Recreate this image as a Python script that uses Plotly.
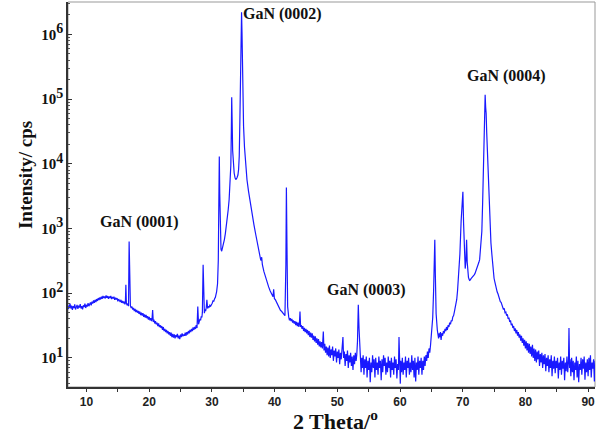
import plotly.graph_objects as go

# XRD scan: (2theta in degrees, intensity in cps)
region_hump = [
    (7.000,66),(7.125,57),(7.250,62),(7.375,69),(7.500,58),(7.625,64),(7.750,55),(7.875,63),(8.000,59),(8.125,67),
    (8.250,56),(8.375,62),(8.500,66),(8.625,57),(8.750,64),(8.875,60),(9.000,68),(9.125,58),(9.250,63),(9.375,56),
    (9.500,65),(9.625,61),(9.750,69),(9.875,59),(10.000,66),(10.125,62),(10.250,70),(10.375,63),(10.500,68),(10.625,72),
    (10.750,65),(10.875,74),(11.000,69),(11.125,77),(11.250,71),(11.375,79),(11.500,73),(11.625,81),(11.750,76),(11.875,84),
    (12.000,78),(12.125,86),(12.250,80),(12.375,88),(12.500,82),(12.625,91),(12.750,84),(12.875,89),(13.000,83),(13.125,92),
    (13.250,85),(13.375,90),(13.500,82),(13.625,89),(13.750,84),(13.875,91),(14.000,81),(14.125,87),(14.250,83),(14.375,88),
    (14.500,79),(14.625,85),(14.750,80),(14.875,84),(15.000,75),(15.125,81),(15.250,77),(15.375,73),(15.500,79),(15.625,71),
    (15.750,76),(15.875,70),(16.000,74),(16.125,67),(16.200,72),(16.280,135),(16.360,70),(16.480,65),(16.600,69),(16.700,63),
    (16.800,630),(16.900,170),(17.000,64),(17.125,59),(17.250,62),(17.375,56),(17.500,59),(17.625,53),(17.750,57),(17.875,51),
    (18.000,55),(18.125,50),(18.250,53),(18.375,48),(18.500,52),(18.625,46),(18.750,50),(18.875,45),(19.000,49),(19.125,43),
    (19.250,47),(19.375,42),(19.500,46),(19.625,41),(19.750,44),(19.875,39),(20.000,43),(20.125,38),(20.250,41),(20.375,37),
    (20.450,40),(20.550,55),(20.650,36),(20.750,39),(20.875,34),(21.000,37),(21.125,33),(21.250,35),(21.375,31),(21.500,34),
    (21.625,30),(21.750,32),(21.875,29),(22.000,31),(22.125,27),(22.250,30),(22.375,26),(22.500,28),(22.625,25),(22.750,27),
    (22.875,24),(23.000,26),(23.125,23),(23.250,25),(23.375,22),(23.500,24.5),(23.625,21),(23.750,23.5),(23.875,20.5),(24.000,23),
    (24.125,20),(24.250,22.5),(24.375,21),(24.500,23.5),(24.625,20),(24.750,22),(24.875,19.5),(25.000,23),(25.125,21),(25.250,24),
    (25.375,21.5),(25.500,23),(25.625,22),(25.750,24.5),(25.875,22),(26.000,25),(26.125,23),(26.250,26),(26.375,24),(26.500,27),
    (26.625,25),(26.750,28),(26.875,26),(27.000,29.5),(27.125,27),(27.250,30),(27.375,28),(27.500,32),(27.625,29),(27.750,62),
    (27.870,33),(28.000,37),(28.100,40),(28.200,38),(28.300,44),(28.400,42),(28.480,50),(28.600,275),(28.720,52),(28.800,49),
    (28.900,56),(29.000,53),(29.100,60),(29.200,79),(29.320,58),(29.450,63),(29.550,60),(29.680,65),(29.800,63),(29.920,69),
    (30.050,70),(30.180,76),(30.300,75),(30.430,82),(30.550,86),(30.650,95),(30.750,105),(30.900,140),
]

region_0002 = [
    (31.02,320),(31.10,2200),(31.18,13000),(31.25,3500),(31.33,700),(31.45,480),(31.56,445),(31.70,500),(31.85,570),(32.00,680),
    (32.15,840),(32.30,1050),(32.45,1400),(32.60,1950),(32.75,2800),(32.90,4500),(33.02,9500),(33.10,32000),(33.16,107000),(33.23,45000),
    (33.31,16000),(33.41,9500),(33.55,7200),(33.70,6000),(33.85,5700),(34.00,6100),(34.15,6700),(34.26,8200),(34.36,13000),(34.46,45000),
    (34.56,180000),(34.65,750000),(34.73,2200000),(34.80,1100000),(34.88,260000),(34.96,80000),(35.05,38000),(35.20,18000),(35.40,9500),(35.60,5600),
    (35.85,3700),(36.10,2500),(36.40,1700),(36.70,1150),(37.00,800),(37.30,560),(37.55,420),(37.80,320),(37.94,360),(38.05,275),
    (38.30,215),(38.55,175),(38.80,140),(39.05,125),(39.30,108),(39.55,98),(39.75,88),(39.85,115),(39.97,82),(40.10,80),
    (40.20,76),(40.33,72),(40.45,67),(40.58,65),(40.70,61),(40.83,57),(40.95,54),(41.08,53),(41.20,51),(41.33,48),
    (41.45,46),(41.65,45),(41.80,280),(41.88,4300),(41.96,700),(42.08,62),
]

region_mid = [
    (42.250,43),(42.375,38),(42.500,41),(42.625,37),(42.750,40),(42.875,35),(43.000,38),(43.125,34),(43.250,37),(43.375,32),
    (43.500,36),(43.625,31),(43.750,35),(43.875,30),(43.950,33),(44.050,52),(44.150,30),(44.250,32),(44.375,28),(44.500,31),
    (44.625,26),(44.750,29),(44.875,25),(45.000,28),(45.125,24),(45.250,27),(45.375,22.5),(45.500,26),(45.625,21),(45.750,24.5),
    (45.875,20.5),(46.000,24),(46.125,19),(46.250,22),(46.375,18),(46.500,21.5),(46.625,17),(46.750,20),(46.875,16),(47.000,19.5),
    (47.125,15),(47.250,18),(47.375,14.5),(47.500,17.5),(47.625,14),(47.770,25.5),(47.875,13),(48.000,16.5),(48.125,12),(48.250,15),
    (48.375,11),(48.500,14.5),(48.625,10.5),(48.750,15.5),(48.875,10),(49.000,13.5),(49.125,11),(49.250,15),(49.375,9),(49.500,13),
    (49.625,10.5),(49.750,14),(49.875,8.5),(50.000,12.5),(50.125,10),(50.250,13.5),(50.375,8),(50.500,12),(50.625,9.5),(50.750,13),
    (50.900,21),(51.000,10),(51.125,12.5),(51.250,7.5),(51.375,11.5),(51.500,9),(51.625,13),(51.750,7),(51.875,11),(52.000,8.5),
    (52.125,12),(52.250,7.5),(52.375,10.5),(52.500,6.5),(52.625,11),(52.750,8),(52.875,12),(53.000,9),(53.100,11),(53.220,18),
    (53.350,66),(53.470,28),(53.600,13),(53.700,9),(53.800,6),(53.900,10),(54.000,7),(54.125,11),(54.250,5.5),(54.375,9.5),
    (54.500,7),(54.625,10.5),(54.750,5),(54.875,9),(55.000,6.5),(55.125,10),(55.250,4.2),(55.375,8.5),(55.500,6),(55.625,11),
    (55.750,7),(55.875,9.5),(56.000,5),(56.125,10),(56.250,6.5),(56.375,8.5),(56.500,5.5),(56.625,10.5),(56.750,7),(56.875,9),
    (57.000,4.5),(57.125,9.5),(57.250,6),(57.375,11),(57.500,7.5),(57.625,10),(57.750,5.5),(57.875,8.5),(58.000,6),(58.125,10.5),
    (58.250,7),(58.375,9),(58.500,5),(58.625,10),(58.750,6.5),(58.875,8.5),(59.000,5.5),(59.125,10.5),(59.250,7),(59.375,9.5),
    (59.500,4.8),(59.625,8),(59.750,6.5),(59.840,21),(59.950,7.5),(60.050,4),(60.125,9),(60.250,6),(60.375,10),(60.500,5.5),
    (60.625,8.5),(60.750,6.5),(60.875,10.5),(61.000,5),(61.125,9),(61.250,7),(61.375,10),(61.500,5.5),(61.625,8.5),(61.750,6),
    (61.875,11),(62.000,6.5),(62.125,9),(62.250,5),(62.375,10),(62.500,4.3),(62.625,8.5),(62.750,6.5),(62.875,10.5),(63.000,5.5),
    (63.125,9),(63.250,7),(63.375,10),(63.500,5.5),(63.625,9),(63.750,6.5),(63.875,10.5),(64.000,7.5),(64.125,11),(64.250,9),
    (64.375,12.5),(64.500,10),(64.625,14),(64.750,12),(64.875,16),
]

region_0004 = [
    (65.05,23),(65.22,42),(65.36,110),(65.47,240),(65.55,670),(65.64,190),(65.76,48),(65.95,27),(66.05,23),(66.15,20),
    (66.25,24),(66.35,21),(66.45,25),(66.55,19),(66.68,24),(66.80,22),(66.92,26),(67.05,24),(67.18,28),(67.30,26),
    (67.42,30),(67.55,27),(67.68,32),(67.80,30),(67.92,35),(68.05,33),(68.18,38),(68.30,37),(68.42,43),(68.55,45),
    (68.68,52),(68.80,58),(68.92,66),(69.05,80),(69.18,110),(69.30,160),(69.43,260),(69.55,400),(69.75,1300),(69.90,2500),
    (70.03,3700),(70.14,1200),(70.26,500),(70.40,240),(70.52,320),(70.62,670),(70.72,300),(70.82,200),(70.92,175),(71.00,165),
    (71.10,158),(71.20,160),(71.33,168),(71.45,172),(71.58,178),(71.70,182),(71.83,192),(71.95,200),(72.08,215),(72.20,230),
    (72.33,250),(72.45,270),(72.58,300),(72.70,330),(72.90,520),(73.05,900),(73.18,2500),(73.29,5700),(73.40,18000),(73.50,45000),
    (73.58,117000),(73.66,75000),(73.74,60000),(73.83,30000),(73.93,16000),(74.05,6000),(74.18,2200),(74.36,960),(74.50,600),(74.65,400),
    (74.850,210),(75.000,170),(75.125,150),(75.250,128),(75.375,120),(75.500,104),(75.625,98),(75.750,86),(75.875,80),(76.000,74),
    (76.125,72),(76.250,64),(76.375,62),(76.500,56),(76.625,58),(76.750,50),(76.875,51),(77.000,45),(77.125,47),(77.250,40),
    (77.375,42),(77.500,36),(77.625,38),(77.750,32),(77.875,34),(78.000,29),(78.125,31),(78.250,26),(78.375,28.5),(78.500,24),
    (78.625,27),(78.750,22),(78.875,25),(79.000,20.5),(79.125,23),(79.250,18.5),(79.375,22),(79.500,17),(79.625,20),(79.750,15.5),
    (79.875,19),(80.000,14),(80.125,18),(80.250,13),(80.375,17),(80.500,12),(80.625,16.5),(80.750,11.5),(80.875,15),(81.000,10.5),
    (81.125,16),(81.250,10),(81.375,14),(81.500,9),(81.625,13.5),(81.750,8.5),(81.875,12.5),(82.000,9.5),(82.125,13),(82.250,7.5),
    (82.375,11.5),(82.500,8.5),(82.625,12),(82.750,7),(82.875,11),(83.000,8),(83.125,11.5),(83.250,6.2),(83.375,10),(83.500,7.5),
    (83.625,11),(83.750,6),(83.875,9.5),(84.000,7),(84.125,11),(84.250,5.2),(84.375,9),(84.500,6.8),(84.625,10.5),(84.750,5.8),
    (84.875,9),(85.000,7),(85.125,10),(85.250,4.8),(85.375,8.5),(85.500,6.5),(85.625,10.5),(85.750,5.5),(85.875,9),(86.000,6.8),
    (86.125,10),(86.250,4.5),(86.375,8.5),(86.500,6.2),(86.625,10.5),(86.750,6),(86.875,9),(86.950,29),(87.050,7),(87.125,9.5),
    (87.250,5.2),(87.375,10),(87.500,6),(87.625,9),(87.750,4.5),(87.875,8.5),(88.000,6.5),(88.125,10.5),(88.250,5),(88.375,9),
    (88.500,4.2),(88.625,8),(88.750,6.5),(88.875,10),(89.000,5.5),(89.125,9.5),(89.250,6.8),(89.375,10.5),(89.500,4.6),(89.625,8.5),
    (89.750,6),(89.875,9.5),(90.000,5.2),(90.125,10),(90.250,6.5),(90.375,11),(90.500,5),(90.625,8.5),(90.750,6.8),(90.875,9.5),
    (91.000,4.3),(91.125,9),(91.250,6.5),(91.375,10),(91.500,5.5),(91.625,9),(91.750,7),
]

# peak labels: (text, 2theta position, log10 intensity position)
peak_labels = [
    ("GaN (0001)", 18.5, 3.10),
    ("GaN (0002)", 41.3, 6.31),
    ("GaN (0003)", 54.7, 2.05),
    ("GaN (0004)", 77.0, 5.36),
]

x_tick_vals = [10, 20, 30, 40, 50, 60, 70, 80, 90]
y_exponents = [1, 2, 3, 4, 5, 6]

scan = region_hump + region_0002 + region_mid + region_0004
two_theta = [p[0] for p in scan]
intensity = [p[1] for p in scan]

serif = "Liberation Serif, Times New Roman, serif"
sans = "Liberation Sans, Arial, sans-serif"

fig = go.Figure()
fig.add_trace(go.Scatter(
    x=two_theta, y=intensity, mode="lines",
    line=dict(color="rgb(25,25,255)", width=1.2),
    showlegend=False, hoverinfo="skip",
))

y_tick_vals = [10 ** e for e in y_exponents]
y_tick_text = ["10<sup><span style='font-size:14px'>%d</span></sup>" % e for e in y_exponents]
y_minor = [m * 10 ** e for e in range(0, 7) for m in range(2, 10)]

fig.update_layout(
    width=597, height=433,
    margin=dict(l=68, r=2, t=2, b=46),
    paper_bgcolor="white", plot_bgcolor="white",
    xaxis=dict(
        range=[7.05, 91.1], tickmode="array", tickvals=x_tick_vals,
        ticks="outside", ticklen=3, tickwidth=1, tickcolor="#333",
        minor=dict(dtick=5, ticks="outside", ticklen=3, tickcolor="#333", showgrid=False),
        showline=True, linecolor="#333", linewidth=1.5, showgrid=False, zeroline=False,
        tickfont=dict(family=sans, size=12, color="#222", weight="bold"),
    ),
    yaxis=dict(
        type="log", range=[0.55, 6.5], tickmode="array",
        tickvals=y_tick_vals, ticktext=y_tick_text,
        ticks="inside", ticklen=4, tickwidth=1, tickcolor="#333",
        minor=dict(tickmode="array", tickvals=y_minor, ticks="inside", ticklen=2,
                   tickcolor="#555", showgrid=False),
        showline=True, linecolor="#333", linewidth=1.5, showgrid=False, zeroline=False,
        tickfont=dict(family=serif, size=15, color="#111", weight="bold"),
    ),
    shapes=[dict(type="rect", xref="paper", yref="paper", x0=0, y0=0, x1=1, y1=1,
                 line=dict(color="#999", width=1), layer="below")],
)

for text, xx, ly in peak_labels:
    fig.add_annotation(x=xx, y=ly, xref="x", yref="y", text=text, showarrow=False,
                       xanchor="center", yanchor="middle",
                       font=dict(family=serif, size=16, color="#111", weight="bold"))

fig.add_annotation(xref="paper", yref="paper", x=-0.082, y=0.55, text="Intensity/ cps",
                   textangle=-90, showarrow=False, xanchor="center", yanchor="middle",
                   font=dict(family=serif, size=19, color="#111", weight="bold"))
fig.add_annotation(xref="paper", yref="paper", x=0.508, y=-0.085, text="2 Theta/<sup>o</sup>",
                   showarrow=False, xanchor="center", yanchor="middle",
                   font=dict(family=serif, size=22, color="#111", weight="bold"))

fig.write_html("out.html", config={"displayModeBar": False},
               post_script="document.body.style.margin='0';")
